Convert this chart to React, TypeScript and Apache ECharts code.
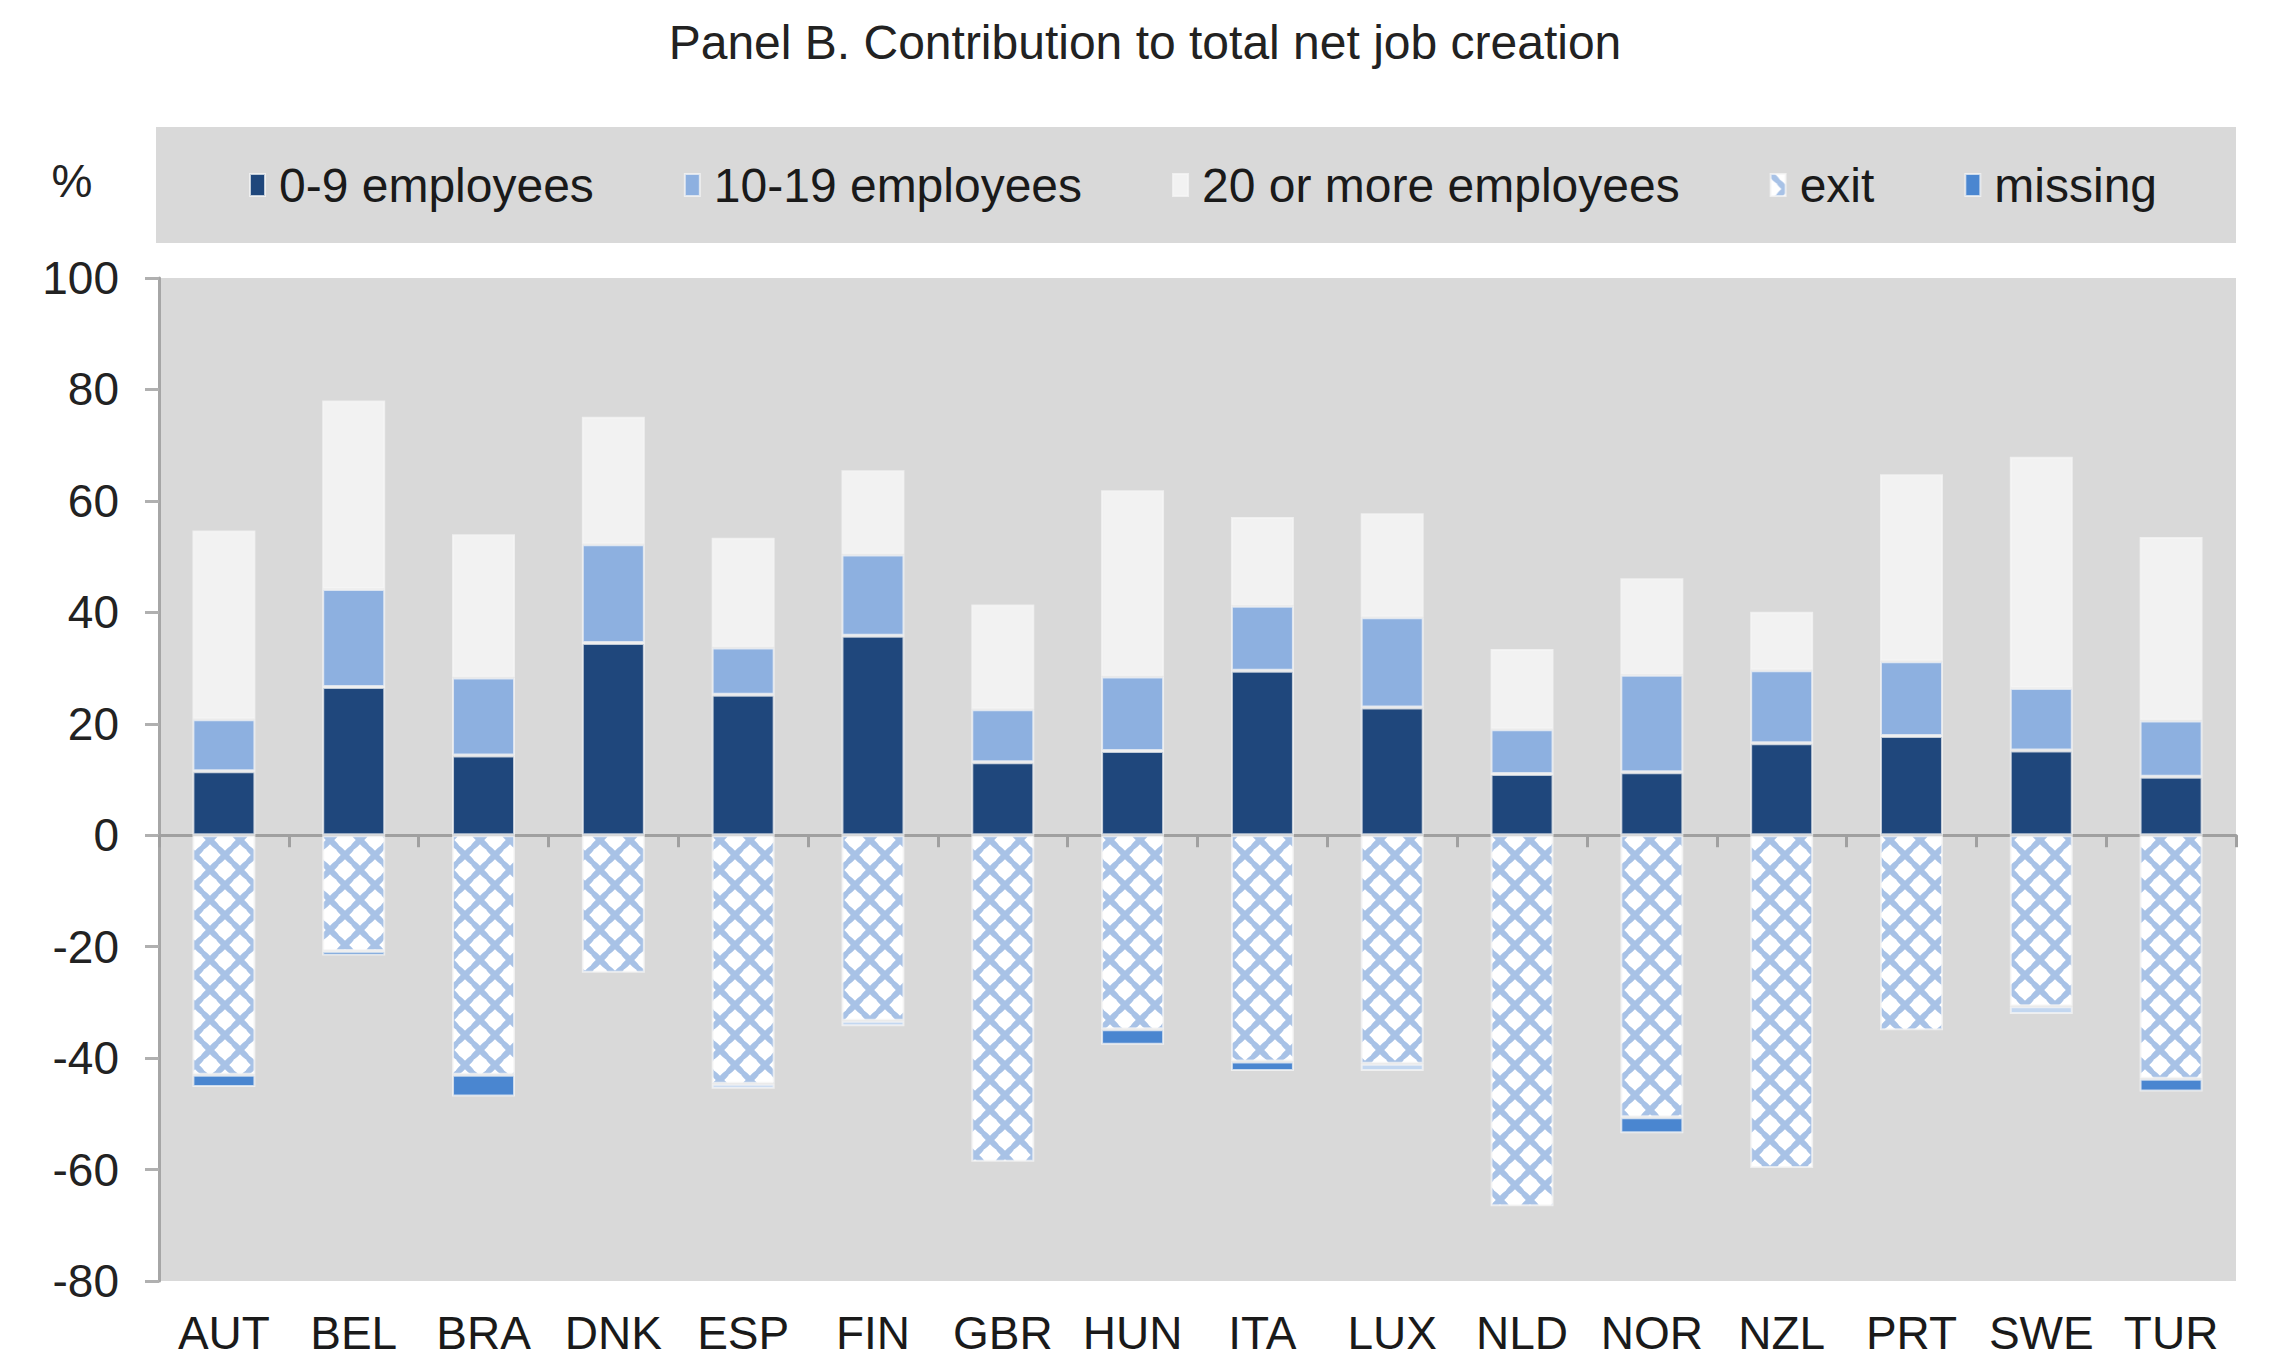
import { useEffect, useRef } from "react";
import * as echarts from "echarts";

const categories = ["AUT", "BEL", "BRA", "DNK", "ESP", "FIN", "GBR", "HUN", "ITA", "LUX", "NLD", "NOR", "NZL", "PRT", "SWE", "TUR"];
const emp0to9 = [11.5, 26.6, 14.3, 34.5, 25.2, 35.8, 13.1, 15.1, 29.5, 22.9, 11.0, 11.3, 16.5, 17.8, 15.2, 10.5];
const emp10to19 = [9.3, 17.6, 14.0, 17.7, 8.5, 14.6, 9.5, 13.4, 11.7, 16.2, 8.0, 17.5, 13.1, 13.4, 11.2, 10.1];
const emp20plus = [33.9, 33.8, 25.7, 22.9, 19.7, 15.1, 18.8, 33.4, 15.9, 18.7, 14.4, 17.3, 10.5, 33.6, 41.5, 32.9];
const exitVals = [-43.0, -20.8, -43.0, -24.7, -44.6, -33.3, -58.6, -34.8, -40.6, -41.0, -66.6, -50.6, -59.7, -35.0, -30.7, -43.7];
const missingVals = [-2.2, -0.8, -3.9, 0, -0.9, -1.0, 0, -2.8, -1.7, -1.3, 0, -2.9, 0, 0, -1.4, -2.3];
const paleMissing = ["ESP", "FIN", "LUX", "SWE"];
const seriesNames = ["0-9 employees", "10-19 employees", "20 or more employees", "exit", "missing"];
const yMin = -80;
const yMax = 100;
const yStep = 20;

function makePattern(size: number): string {
  const h = size / 2;
  const c = document.createElement("canvas");
  c.width = size;
  c.height = size;
  const g = c.getContext("2d")!;
  g.fillStyle = "#ffffff";
  g.fillRect(0, 0, size, size);
  g.strokeStyle = "#a8c2e6";
  g.lineWidth = 6;
  g.beginPath();
  for (let k = -1; k <= 2; k++) {
    const o = k * size;
    g.moveTo(o - size, -size);
    g.lineTo(o + 2 * size, 2 * size);
    g.moveTo(o + size, -size);
    g.lineTo(o - 2 * size, 2 * size);
  }
  g.stroke();
  g.fillStyle = "#ffffff";
  const centers = [
    [h, 0],
    [0, h],
    [size, h],
    [h, size],
  ];
  for (const [cx, cy] of centers) {
    g.beginPath();
    g.arc(cx, cy, 8, 0, Math.PI * 2);
    g.fill();
  }
  return c.toDataURL();
}

export default function App() {
  const ref = useRef<HTMLDivElement>(null);
  useEffect(() => {
    if (!ref.current) return;
    const chart = echarts.init(ref.current, null, { renderer: "svg" });
    const patSize = 30;
    const pattern = { image: makePattern(patSize), repeat: "repeat", imageWidth: patSize, imageHeight: patSize };
    const border = { borderColor: "rgba(245,245,245,0.75)", borderWidth: 2 };
    const nz = (arr: number[]) => arr.map((v) => (v === 0 ? "-" : v));
    const colors = ["#1f477c", "#8db0e0", "#f2f2f2", pattern, "#4a86d0"];
    const fontFamily = "Liberation Sans, Arial, sans-serif";
    const option: any = {
      animation: false,
      textStyle: { fontFamily },
      title: {
        text: "Panel B. Contribution to total net job creation",
        left: 1140,
        top: 13,
        textAlign: "center",
        textStyle: { fontSize: 48, fontWeight: "normal", color: "#222222", fontFamily },
      },
      graphic: [
        { type: "rect", z: -10, shape: { x: 156, y: 127, width: 2080, height: 116 }, style: { fill: "#d9d9d9" } },
        {
          type: "text",
          x: 72,
          y: 181,
          style: { text: "%", fontSize: 46, fill: "#222222", align: "center", verticalAlign: "middle", fontFamily },
        },
      ],
      legend: {
        data: seriesNames,
        left: 249,
        top: 160,
        padding: 0,
        itemGap: 90,
        itemWidth: 15,
        itemHeight: 22,
        icon: "rect",
        textStyle: { fontSize: 48, color: "#1a1a1a", lineHeight: 50, padding: [0, 0, 0, 9], fontFamily },
      },
      grid: {
        left: 159,
        right: 33,
        top: 278,
        bottom: 80,
        show: true,
        backgroundColor: "#d9d9d9",
        borderWidth: 0,
      },
      xAxis: [
        {
          type: "category",
          data: categories,
          position: "bottom",
          axisLine: { show: false, onZero: false },
          axisTick: { show: false },
          axisLabel: { interval: 0, fontSize: 46, lineHeight: 46, color: "#1a1a1a", margin: 29, fontFamily },
        },
        {
          type: "category",
          data: categories,
          position: "bottom",
          axisLine: { show: true, onZero: true, lineStyle: { color: "#a0a0a0", width: 3 } },
          axisTick: { show: true, interval: 0, length: 12, lineStyle: { color: "#a0a0a0", width: 3 } },
          axisLabel: { show: false },
        },
      ],
      yAxis: {
        type: "value",
        min: yMin,
        max: yMax,
        interval: yStep,
        axisLine: { show: true, lineStyle: { color: "#a6a6a6", width: 3 } },
        axisTick: { show: true, length: 14, lineStyle: { color: "#b0b0b0", width: 3 } },
        axisLabel: { fontSize: 46, color: "#222222", margin: 40, fontFamily },
        splitLine: { show: false },
      },
      series: [
        { name: seriesNames[0], data: emp0to9 },
        { name: seriesNames[1], data: emp10to19 },
        { name: seriesNames[2], data: emp20plus },
        { name: seriesNames[3], data: exitVals },
        {
          name: seriesNames[4],
          data: missingVals.map((v, i) =>
            v === 0
              ? "-"
              : paleMissing.includes(categories[i])
              ? { value: v, itemStyle: { color: "#c3d7f0" } }
              : v
          ),
        },
      ].map((s: any, i) => ({
        type: "bar",
        stack: "total",
        barWidth: 63,
        xAxisIndex: 0,
        name: s.name,
        data: i === 4 ? s.data : nz(s.data),
        itemStyle: { color: colors[i], ...border },
      })),
    };
    chart.setOption(option);
    return () => chart.dispose();
  }, []);
  return <div ref={ref} style={{ position: "fixed", left: 0, top: 0, width: 2269, height: 1361, background: "#fff" }} />;
}
